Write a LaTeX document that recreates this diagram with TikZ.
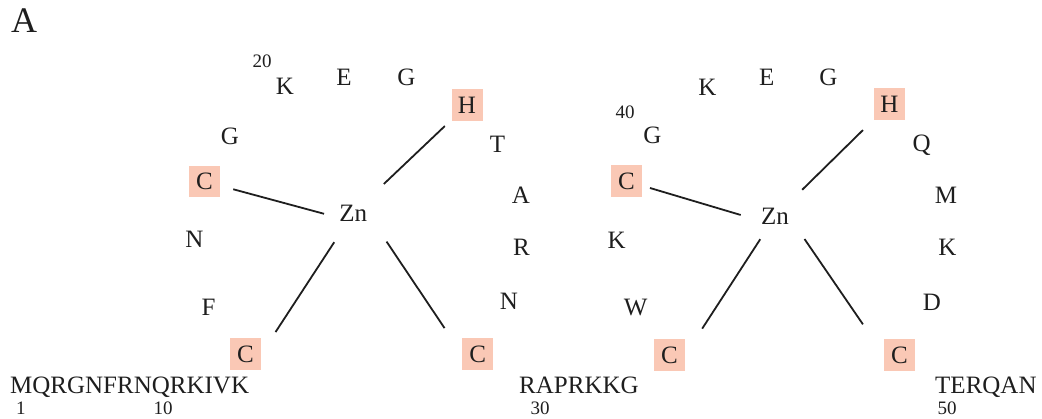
\documentclass[tikz,border=0pt]{standalone}
\usepackage{fontspec}
\setmainfont{Liberation Serif}
\definecolor{boxfill}{RGB}{250,200,181}
\definecolor{ink}{RGB}{30,30,30}
\begin{document}
\begin{tikzpicture}[x=1pt,y=-1pt,
 res/.style={inner sep=0pt, text=ink, font=\fontsize{25}{30}\selectfont, text height=17pt, text depth=0pt},
 lig/.style={res, fill=boxfill, minimum width=31pt, minimum height=31.5pt},
 num/.style={inner sep=0pt, text=ink, font=\fontsize{19}{22}\selectfont, text height=13pt, text depth=0pt},
 seq/.style={inner sep=0pt, text=ink, font=\fontsize{25}{30}\selectfont, anchor=base west},
 bond/.style={line width=1.8pt, draw=ink}
]
\useasboundingbox (0,0) rectangle (1042,419);
\node[inner sep=0pt, text=ink, font=\fontsize{36}{40}\selectfont, text height=24pt, text depth=0pt] (panel) at (24,20.5) {A};

% sequence
\node[seq] (s1) at (10,393.5) {MQRGNFRNQRKIVK};
\node[seq] (s2) at (519,393.5) {RAPRKKG};
\node[seq] (s3) at (935,393.5) {TERQAN};
\node[num] (n1) at (21,408) {1};
\node[num] (n10) at (163,408) {10};
\node[num] (n30) at (540,408) {30};
\node[num] (n50) at (947,408) {50};

% left finger
\node[res] (zn1) at (353.3,213) {Zn};
\node[lig] (lc1) at (204.5,181.5) {C};
\node[res] (lg1) at (230,136) {G};
\node[num] (n20) at (262,61) {20};
\node[res] (lk1) at (285,86) {K};
\node[res] (le1) at (344,77) {E};
\node[res] (lg2) at (406.5,77) {G};
\node[lig] (lh1) at (467,105) {H};
\node[res] (lt1) at (497.6,144.5) {T};
\node[res] (la1) at (521,195) {A};
\node[res] (lr1) at (521.5,247) {R};
\node[res] (ln1) at (509,301) {N};
\node[lig] (lc4) at (477.6,354) {C};
\node[lig] (lc2) at (245.5,354) {C};
\node[res] (lf1) at (208.5,307.5) {F};
\node[res] (ln2) at (194.5,239) {N};

\draw[bond, shorten <=29.8pt, shorten >=30.3pt] (lc1.center) -- (zn1.south);
\draw[bond, shorten <=30.6pt, shorten >=42.1pt] (lh1.center) -- (zn1.center);
\draw[bond, shorten <=34.9pt, shorten >=26.2pt] (zn1.center) -- (lc2.east);
\draw[bond, shorten <=34.4pt, shorten >=31.2pt] (zn1.east) -- (lc4.west);

% right finger
\node[res] (zn2) at (775,216.5) {Zn};
\node[lig] (rc1) at (626.5,181) {C};
\node[res] (rg1) at (652.3,135) {G};
\node[num] (n40) at (625,112) {40};
\node[res] (rk1) at (707.3,87.3) {K};
\node[res] (re1) at (766.7,77) {E};
\node[res] (rg2) at (828.3,77) {G};
\node[lig] (rh1) at (889.5,104) {H};
\node[res] (rq1) at (921.7,143) {Q};
\node[res] (rm1) at (946,195) {M};
\node[res] (rk2) at (947.3,246.7) {K};
\node[res] (rd1) at (932,301.7) {D};
\node[lig] (rc4) at (899.5,354.8) {C};
\node[lig] (rc2) at (669.5,354.8) {C};
\node[res] (rw1) at (635.7,307.3) {W};
\node[res] (rk3) at (616.7,240) {K};

\draw[bond, shorten <=24.5pt, shorten >=35.8pt] (rc1.center) -- (zn2.south);
\draw[bond, shorten <=37.3pt, shorten >=38.1pt] (rh1.center) -- (zn2.center);
\draw[bond, shorten <=27.1pt, shorten >=31.2pt] (zn2.center) -- (rc2.east);
\draw[bond, shorten <=27.3pt, shorten >=36.9pt] (zn2.east) -- (rc4.west);
\end{tikzpicture}
\end{document}
